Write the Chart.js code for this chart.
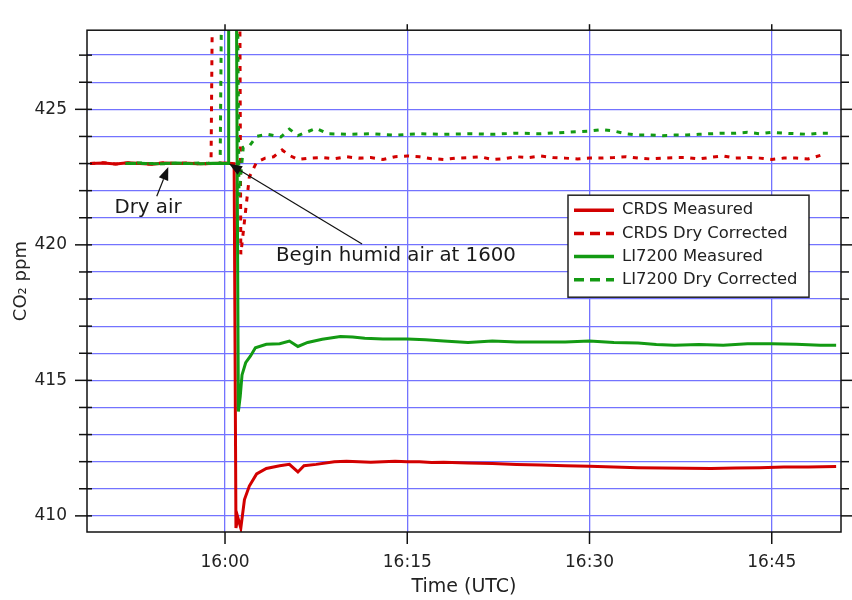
<!DOCTYPE html>
<html>
<head>
<meta charset="utf-8">
<script src="https://cdn.jsdelivr.net/npm/chart.js@4/dist/chart.umd.min.js"></script>
<style>
  html, body { margin: 0; padding: 0; background: #fff; }
  canvas { display: block; }
</style>
</head>
<body>
<canvas id="c" width="852" height="600"></canvas>
<script>
// Time is given in minutes relative to 16:00 UTC; CO2 in ppm.
const crdsTime = [-11.1, -10, -9, -8, -7, -6, -5, -4, -3, -2, -1, 0, 0.75, 0.9, 1.05, 1.3, 1.6, 2.0, 2.6, 3.4, 4.5, 5.3, 6.0, 6.5, 7.5, 9, 10, 11, 12, 13, 14, 15, 16, 17, 18, 20, 22, 24, 26, 28, 30, 32, 34, 36, 38, 40, 42, 44, 46, 48, 50.3];
const crdsMeasured = [423.0, 423.02, 422.98, 423.03, 423.0, 422.97, 423.02, 423.0, 423.01, 422.99, 423.0, 423.02, 423.0, 409.55, 409.95, 409.55, 410.6, 411.1, 411.55, 411.75, 411.85, 411.9, 411.62, 411.85, 411.9, 412.0, 412.02, 412.0, 411.98, 412.0, 412.02, 412.0, 412.0, 411.97, 411.98, 411.95, 411.93, 411.9, 411.88, 411.85, 411.83, 411.8, 411.78, 411.77, 411.76, 411.75, 411.77, 411.78, 411.8, 411.8, 411.82];

const crdsDryTime = [-11.1, -10, -9, -8, -7, -6, -5, -4, -3, -2, -1.4, -1.15, -1.0, 1.2, 1.3, 2.0, 2.6, 3.3, 4.0, 4.7, 5.3, 6.0, 7, 8, 9, 10, 11, 12, 13, 14, 15, 16, 17, 18, 19, 20, 21, 22, 23, 24, 25, 26, 27, 28, 29, 30, 31, 32, 33, 34, 35, 36, 37, 38, 39, 40, 41, 42, 43, 44, 45, 46, 47, 48, 49];
const crdsDry = [423.0, 423.03, 422.98, 423.02, 423.0, 422.98, 423.03, 423.0, 423.02, 422.99, 423.0, 423.05, 431, 431, 419.65, 422.5, 423.05, 423.2, 423.25, 423.5, 423.3, 423.15, 423.2, 423.22, 423.18, 423.25, 423.2, 423.22, 423.15, 423.25, 423.28, 423.25, 423.18, 423.15, 423.2, 423.22, 423.25, 423.15, 423.18, 423.25, 423.22, 423.28, 423.22, 423.2, 423.17, 423.2, 423.2, 423.22, 423.25, 423.2, 423.17, 423.2, 423.22, 423.22, 423.17, 423.23, 423.28, 423.2, 423.22, 423.2, 423.15, 423.2, 423.2, 423.17, 423.3];

const liTime = [-8.2, -7, -6, -5, -4, -3, -2, -1, 0, 0.25, 0.3, 0.92, 1.0, 1.1, 1.25, 1.4, 1.7, 2.1, 2.5, 3.4, 4.5, 5.3, 6.0, 6.8, 8.0, 9.5, 10.5, 11.5, 13, 15, 16.5, 18, 20, 22, 24, 26, 28, 30, 32, 34, 35.5, 37, 39, 41, 43, 45, 47, 49, 50.3];
const liMeasured = [423.0, 423.01, 422.99, 423.0, 423.02, 423.0, 422.99, 423.01, 423.0, 423.0, 431, 431, 423.0, 413.85, 414.4, 415.2, 415.65, 415.9, 416.2, 416.33, 416.35, 416.45, 416.25, 416.4, 416.52, 416.62, 416.6, 416.55, 416.53, 416.53, 416.5, 416.45, 416.4, 416.45, 416.42, 416.42, 416.42, 416.45, 416.4, 416.38, 416.32, 416.3, 416.32, 416.3, 416.35, 416.35, 416.33, 416.3, 416.3];

const liDryTime = [-8.2, -7, -6, -5, -4, -3, -2, -1, -0.4, -0.25, 1.0, 1.15, 1.5, 2.0, 2.6, 3.5, 4.6, 5.3, 6.0, 7.5, 8.5, 10, 12, 14, 16, 18, 20, 22, 24, 26, 28, 30, 31, 32, 33, 34, 35, 36, 37, 38, 39, 40, 41, 42, 43, 44, 45, 46, 47, 48, 49, 49.8];
const liDry = [423.0, 423.02, 423.0, 422.99, 423.01, 423.0, 423.02, 423.0, 423.0, 431, 431, 421.8, 423.6, 423.65, 424.0, 424.08, 423.98, 424.27, 424.03, 424.3, 424.1, 424.08, 424.1, 424.05, 424.1, 424.08, 424.1, 424.08, 424.12, 424.1, 424.15, 424.2, 424.25, 424.2, 424.1, 424.05, 424.05, 424.03, 424.05, 424.05, 424.08, 424.1, 424.12, 424.12, 424.15, 424.1, 424.15, 424.12, 424.1, 424.08, 424.12, 424.12];

const seriesNames = ['CRDS Measured', 'CRDS Dry Corrected', 'LI7200 Measured', 'LI7200 Dry Corrected'];
const xTickMinutes = [0, 15, 30, 45];
const yTickValues = [410, 411, 412, 413, 414, 415, 416, 417, 418, 419, 420, 421, 422, 423, 424, 425, 426, 427];

const RED = '#d20000';
const GREEN = '#139a13';
const GRID = '#7373ff';
const FONT = 'DejaVu Sans';

const pts = (xs, ys) => xs.map((x, i) => ({ x, y: ys[i] }));
const clock = m => {
  const total = 16 * 60 + m;
  const h = Math.floor(total / 60), mm = Math.round(total % 60);
  return h + ':' + String(mm).padStart(2, '0');
};

// frame box and tick marks crossing the axes
const framePlugin = {
  id: 'frameTicks',
  afterDatasetsDraw(chart) {
    const { ctx, chartArea: a, scales: { x, y } } = chart;
    const seg = (x1, y1, x2, y2) => { ctx.beginPath(); ctx.moveTo(x1, y1); ctx.lineTo(x2, y2); ctx.stroke(); };
    ctx.save();
    ctx.strokeStyle = '#111';
    ctx.lineWidth = 1.5;
    ctx.strokeRect(a.left, a.top, a.right - a.left, a.bottom - a.top);
    y.ticks.forEach(t => {
      const py = y.getPixelForValue(t.value);
      const out = t.value % 5 === 0 ? 12 : 8;
      seg(a.left - out, py, a.left + 5, py);
      seg(a.right, py, a.right + out, py);
    });
    x.ticks.forEach(t => {
      const px = x.getPixelForValue(t.value);
      seg(px, a.bottom, px, a.bottom + 12);
      seg(px, a.top - 6, px, a.top);
    });
    ctx.restore();
  }
};

// arrows with text notes, anchored in data coordinates
const notes = [
  { text: 'Dry air', tx: -9.1, ty: 421.35, from: [-5.62, 421.79], to: [-4.67, 422.87] },
  { text: 'Begin humid air at 1600', tx: 4.2, ty: 419.6, from: [11.28, 420.03], to: [0.33, 422.99] }
];
const notePlugin = {
  id: 'notes',
  afterDraw(chart) {
    const { ctx, scales: { x, y } } = chart;
    ctx.save();
    notes.forEach(n => {
      const x1 = x.getPixelForValue(n.from[0]), y1 = y.getPixelForValue(n.from[1]);
      const x2 = x.getPixelForValue(n.to[0]), y2 = y.getPixelForValue(n.to[1]);
      const ang = Math.atan2(y2 - y1, x2 - x1);
      const hl = 13, hw = 5;
      const bx = x2 - hl * Math.cos(ang), by = y2 - hl * Math.sin(ang);
      ctx.strokeStyle = '#111'; ctx.fillStyle = '#111'; ctx.lineWidth = 1.2;
      ctx.beginPath(); ctx.moveTo(x1, y1); ctx.lineTo(bx, by); ctx.stroke();
      ctx.beginPath();
      ctx.moveTo(x2, y2);
      ctx.lineTo(bx + hw * Math.sin(ang), by - hw * Math.cos(ang));
      ctx.lineTo(bx - hw * Math.sin(ang), by + hw * Math.cos(ang));
      ctx.closePath(); ctx.fill();
      ctx.font = '19.8px "' + FONT + '"';
      ctx.fillStyle = '#1a1a1a';
      ctx.textAlign = 'left'; ctx.textBaseline = 'middle';
      ctx.fillText(n.text, x.getPixelForValue(n.tx), y.getPixelForValue(n.ty));
    });
    ctx.restore();
  }
};

// boxed legend inside the plot area
const legendPlugin = {
  id: 'boxLegend',
  afterDraw(chart) {
    const { ctx, chartArea: a } = chart;
    const left = a.left + 481, top = a.top + 165, w = 241, h = 102;
    ctx.save();
    ctx.fillStyle = '#fff';
    ctx.fillRect(left, top, w, h);
    ctx.strokeStyle = '#222'; ctx.lineWidth = 1.5;
    ctx.strokeRect(left, top, w, h);
    chart.data.datasets.forEach((ds, i) => {
      const yy = top + 15 + i * 23.2;
      ctx.strokeStyle = ds.borderColor;
      ctx.lineWidth = 3.5;
      ctx.setLineDash(ds.borderDash && ds.borderDash.length ? [10, 6] : []);
      ctx.beginPath(); ctx.moveTo(left + 6, yy); ctx.lineTo(left + 46, yy); ctx.stroke();
      ctx.setLineDash([]);
      ctx.fillStyle = '#222';
      ctx.font = '16.4px "' + FONT + '"';
      ctx.textAlign = 'left'; ctx.textBaseline = 'middle';
      ctx.fillText(ds.label, left + 54, yy);
    });
    ctx.restore();
  }
};

new Chart(document.getElementById('c'), {
  type: 'line',
  data: {
    datasets: [
      { label: seriesNames[0], data: pts(crdsTime, crdsMeasured), borderColor: RED, borderWidth: 3, order: 3 },
      { label: seriesNames[1], data: pts(crdsDryTime, crdsDry), borderColor: RED, borderWidth: 3, borderDash: [5, 6.5], order: 1 },
      { label: seriesNames[2], data: pts(liTime, liMeasured), borderColor: GREEN, borderWidth: 3, order: 2 },
      { label: seriesNames[3], data: pts(liDryTime, liDry), borderColor: GREEN, borderWidth: 3, borderDash: [5, 6.5], order: 0 }
    ]
  },
  options: {
    responsive: false,
    animation: false,
    devicePixelRatio: 1,
    elements: { point: { radius: 0, hoverRadius: 0 }, line: { tension: 0, fill: false } },
    layout: { padding: { top: 25, right: 11, left: 0, bottom: 0 } },
    plugins: { legend: { display: false }, tooltip: { enabled: false } },
    scales: {
      x: {
        type: 'linear',
        min: -11.36,
        max: 50.7,
        afterBuildTicks: s => { s.ticks = xTickMinutes.map(v => ({ value: v })); },
        afterFit: s => { s.height = 68; },
        grid: { color: GRID, lineWidth: 1.3, drawTicks: false },
        border: { display: false },
        ticks: { padding: 20, maxRotation: 0, autoSkip: false, color: '#222', font: { family: FONT, size: 17 }, callback: v => clock(v) },
        title: { display: true, text: 'Time (UTC)', color: '#222', font: { family: FONT, size: 19 }, padding: { bottom: 2 } }
      },
      y: {
        min: 409.405,
        max: 427.92,
        afterBuildTicks: s => { s.ticks = yTickValues.map(v => ({ value: v })); },
        afterFit: s => { s.width = 87; },
        grid: { color: GRID, lineWidth: 1.3, drawTicks: false },
        border: { display: false },
        ticks: { padding: 20, autoSkip: false, color: '#222', font: { family: FONT, size: 17 }, callback: v => (v % 5 === 0 ? String(v) : '') },
        title: { display: true, text: 'CO₂ ppm', color: '#222', font: { family: FONT, size: 18 }, padding: { top: 11 } }
      }
    }
  },
  plugins: [framePlugin, notePlugin, legendPlugin]
});
</script>
</body>
</html>
